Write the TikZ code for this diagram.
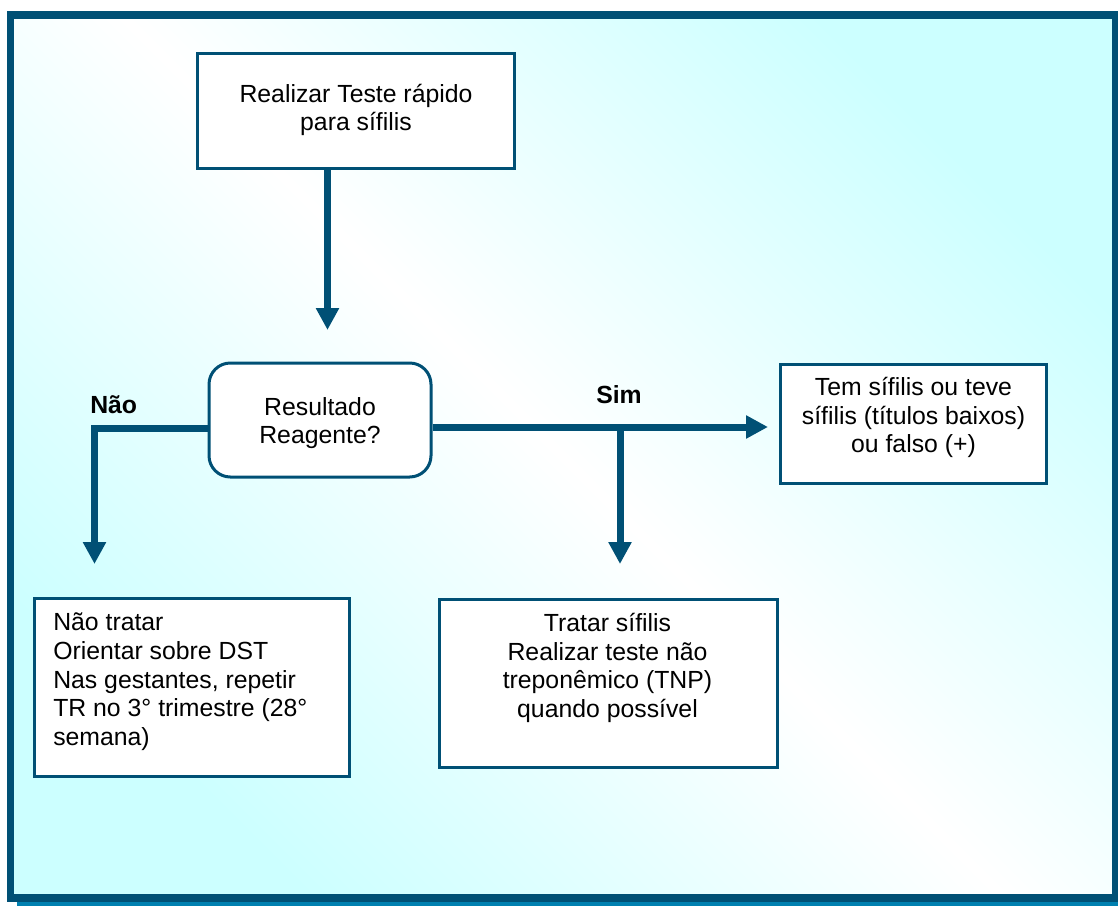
\documentclass[tikz,border=0pt]{standalone}
\usepackage{fontspec}
\setmainfont{Liberation Sans}
\usetikzlibrary{arrows.meta,calc}
\definecolor{frameblue}{RGB}{0,80,117}
\definecolor{shadowblue}{RGB}{0,128,176}
\definecolor{bgcyan}{RGB}{204,255,255}
\begin{document}
\begin{tikzpicture}[x=0.75pt,y=-0.75pt,
  box/.style={draw=frameblue,line width=2.25pt,fill=white,inner sep=0pt},
  txt/.style={inner sep=0pt,font=\fontsize{18.6pt}{21.4pt}\selectfont},
  lbl/.style={inner sep=0pt,font=\fontsize{18.6pt}{21.4pt}\selectfont\bfseries},
  flow/.style={draw=frameblue,line width=5.25pt},
  arr/.style={flow,-{Triangle[width=16.5pt,length=16.5pt]}}]
\useasboundingbox (0,0) rectangle (1118,906);
% background frame
\fill[shadowblue] (17,22) rectangle (1130,912);
\shade[top color=bgcyan,bottom color=bgcyan,middle color=white,shading angle=-45] (14,19) rectangle (1112,894);
\draw[frameblue,line width=5.6pt] (10.7,15) rectangle (1115.5,898);
% boxes
\node[box,minimum width=237.75pt,minimum height=85.5pt] (top) at (355.5,111) {};
\node[box,rounded corners=16pt,minimum width=166.5pt,minimum height=85.5pt] (dec) at (320,420) {};
\node[box,minimum width=199.5pt,minimum height=89.25pt] (right) at (913,423.5) {};
\node[box,minimum width=236.25pt,minimum height=133.5pt] (nl) at (191.5,687) {};
\node[box,minimum width=253.5pt,minimum height=126pt] (sm) at (608,683) {};
% texts
\node[txt,align=center] (toptxt) at (356,110.8) {\strut Realizar Teste rápido\\\strut para sífilis};
\node[txt,align=center] (dectxt) at (320,423.8) {\strut Resultado\\\strut Reagente?};
\node[txt,align=center] (righttxt) at (913.5,418.3) {\strut Tem sífilis ou teve\\\strut sífilis (títulos baixos)\\\strut ou falso (+)};
\node[txt,align=left,anchor=west] (nltxt) at (53,682.3) {\strut Não tratar\\\strut Orientar sobre DST\\\strut Nas gestantes, repetir\\\strut TR no 3° trimestre (28°\\\strut semana)};
\node[txt,align=center] (smtxt) at (607.5,668.8) {\strut Tratar sífilis\\\strut Realizar teste não\\\strut treponêmico (TNP)\\\strut quando possível};
% labels
\node[lbl,anchor=base west] (nao) at (90,413) {Não};
\node[lbl,anchor=base] (sim) at (619,403) {Sim};
% connector points
\coordinate (a1) at (327.5,330);
\coordinate (n1) at (94.5,428);
\coordinate (n2) at (94.5,564);
\coordinate (s1) at (620,427);
\coordinate (s2) at (768,427);
\coordinate (s3) at (620,564);
% connectors
\draw[arr] (top.south -| a1) -- (a1);
\draw[arr] (dec.west |- n1) -- (n1) -- (n2);
\draw[arr] (dec.east |- s2) -- (s2);
\draw[arr] (s1) -- (s3);
\end{tikzpicture}
\end{document}
